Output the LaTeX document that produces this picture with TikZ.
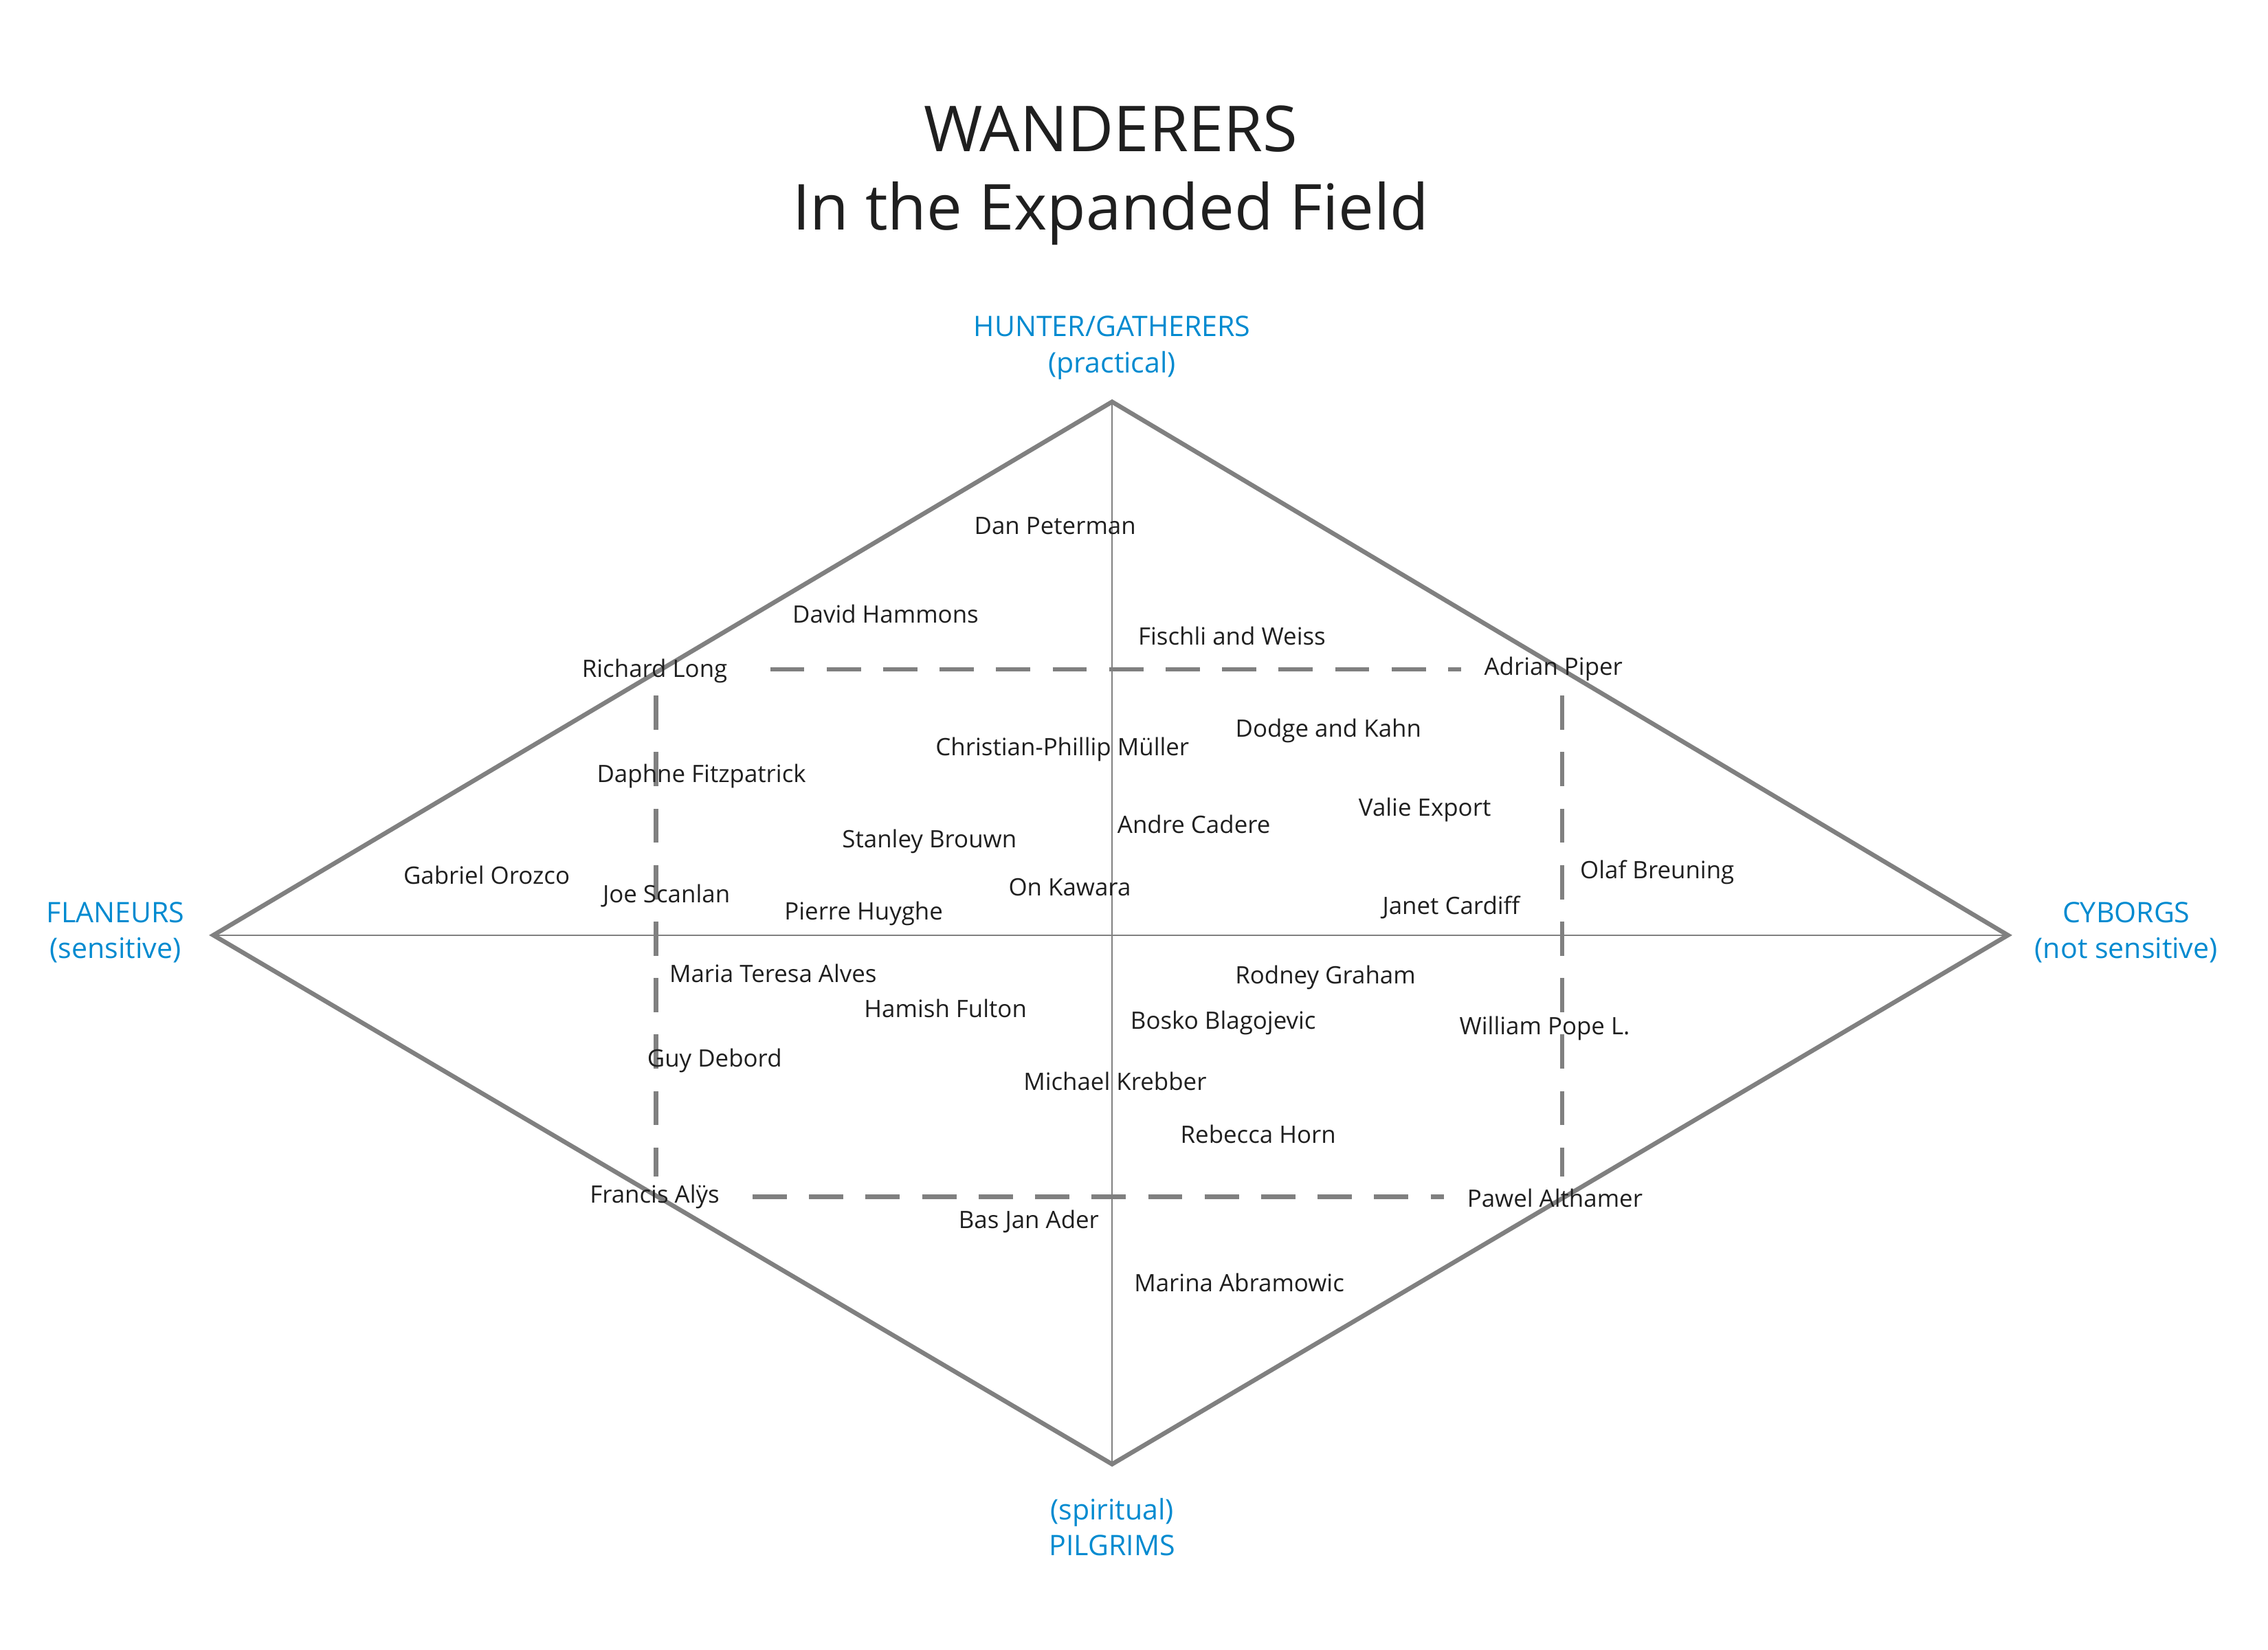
\documentclass[tikz,border=0pt]{standalone}
\usepackage{fontspec}
\setmainfont{Open Sans}
\begin{document}
\begin{tikzpicture}[x=0.03cm,y=-0.03cm,
  nm/.style={text=black!88,font=\fontsize{14}{16}\selectfont,inner sep=1pt},
  ax/.style={text={rgb,255:red,0;green,138;blue,208},font=\fontsize{16.5}{21}\selectfont,align=center},
  edge/.style={draw=black!50,line width=2.6pt},
  dsh/.style={draw=black!50,line width=2.6pt,dash pattern=on 20pt off 13pt}]
\useasboundingbox (0,0) rectangle (1552,1129);
\coordinate (T) at (761,275); \coordinate (L) at (146,640);
\coordinate (R) at (1374,640); \coordinate (B) at (761,1002);
\draw[black!50,line width=0.6pt] (T) -- (B) (L) -- (R);
\draw[edge,line join=miter] (T) -- (R) -- (B) -- (L) -- cycle;
\draw[dsh] (527,458) -- (1000,458);
\draw[dsh] (1069,476) -- (1069,805);
\draw[dsh] (515,819) -- (988,819);
\draw[dsh] (449,476) -- (449,805);
\node[text=black!88,font=\fontsize{37}{46}\selectfont,align=center] (title) at (760,120) {WANDERERS\\In the Expanded Field};
\node[ax] (hg) at (761,238) {HUNTER/GATHERERS\\(practical)};
\node[ax] (fl) at (79,638) {FLANEURS\\(sensitive)};
\node[ax] (cy) at (1455,638) {CYBORGS\\(not sensitive)};
\node[ax] (pi) at (761,1045) {(spiritual)\\PILGRIMS};
\node[nm] (n1) at (722,360) {Dan Peterman};
\node[nm] (n2) at (606,420) {David Hammons};
\node[nm] (n3) at (843,435) {Fischli and Weiss};
\node[nm] (n4) at (448,459) {Richard Long};
\node[nm] (n5) at (1063,458) {Adrian Piper};
\node[nm] (n6) at (909,500) {Dodge and Kahn};
\node[nm] (n7) at (727,513) {Christian-Phillip Müller};
\node[nm] (n8) at (480,531) {Daphne Fitzpatrick};
\node[nm] (n9) at (975,554) {Valie Export};
\node[nm] (n10) at (817,564) {Andre Cadere};
\node[nm] (n11) at (636,576) {Stanley Brouwn};
\node[nm] (n12) at (1134,597) {Olaf Breuning};
\node[nm] (n13) at (333,599) {Gabriel Orozco};
\node[nm] (n14) at (456,613) {Joe Scanlan};
\node[nm] (n15) at (732,607) {On Kawara};
\node[nm] (n16) at (591,625) {Pierre Huyghe};
\node[nm] (n17) at (993,621) {Janet Cardiff};
\node[nm] (n18) at (529,666) {Maria Teresa Alves};
\node[nm] (n19) at (907,669) {Rodney Graham};
\node[nm] (n20) at (647,690) {Hamish Fulton};
\node[nm] (n21) at (837,700) {Bosko Blagojevic};
\node[nm] (n22) at (1057,704) {William Pope L.};
\node[nm] (n23) at (489,726) {Guy Debord};
\node[nm] (n24) at (763,740) {Michael Krebber};
\node[nm] (n25) at (861,776) {Rebecca Horn};
\node[nm] (n26) at (448,819) {Francis Alÿs};
\node[nm] (n27) at (1064,820) {Pawel Althamer};
\node[nm] (n28) at (704,836) {Bas Jan Ader};
\node[nm] (n29) at (848,878) {Marina Abramowic};
\end{tikzpicture}
\end{document}
